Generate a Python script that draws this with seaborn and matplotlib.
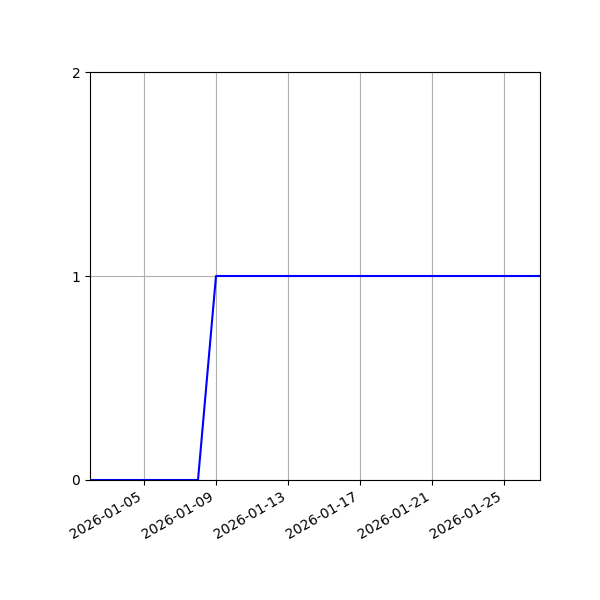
import pandas as pd
import matplotlib
matplotlib.use("Agg")
import matplotlib.pyplot as plt
import matplotlib.dates as mdates
import seaborn as sns

# Daily values
dates = [
    "2026-01-02", "2026-01-03", "2026-01-04", "2026-01-05", "2026-01-06",
    "2026-01-07", "2026-01-08", "2026-01-09", "2026-01-10", "2026-01-11",
    "2026-01-12", "2026-01-13", "2026-01-14", "2026-01-15", "2026-01-16",
    "2026-01-17", "2026-01-18", "2026-01-19", "2026-01-20", "2026-01-21",
    "2026-01-22", "2026-01-23", "2026-01-24", "2026-01-25", "2026-01-26",
    "2026-01-27",
]
values = [
    0, 0, 0, 0, 0, 0, 0,
    1, 1, 1, 1, 1, 1, 1, 1, 1, 1, 1, 1, 1, 1, 1, 1, 1, 1, 1,
]
y_ticks = [0, 1, 2]

df = pd.DataFrame({
    "date": pd.to_datetime(dates),
    "value": values
})

fig, ax = plt.subplots(figsize=(6, 6), dpi=100)

sns.lineplot(
    data=df,
    x="date",
    y="value",
    color="blue",
    linewidth=1.5,
    ax=ax
)

ax.set_xlim(df["date"].min(), df["date"].max())
ax.set_ylim(0, 2)
ax.set_yticks(y_ticks)
ax.xaxis.set_major_locator(mdates.DayLocator(bymonthday=[5, 9, 13, 17, 21, 25]))
ax.xaxis.set_major_formatter(mdates.DateFormatter("%Y-%m-%d"))

ax.set_xlabel("")
ax.set_ylabel("")
ax.grid(True)

fig.autofmt_xdate()
fig.subplots_adjust(left=0.15, right=0.9, top=0.88, bottom=0.2)

plt.savefig("out.png", dpi=100)
